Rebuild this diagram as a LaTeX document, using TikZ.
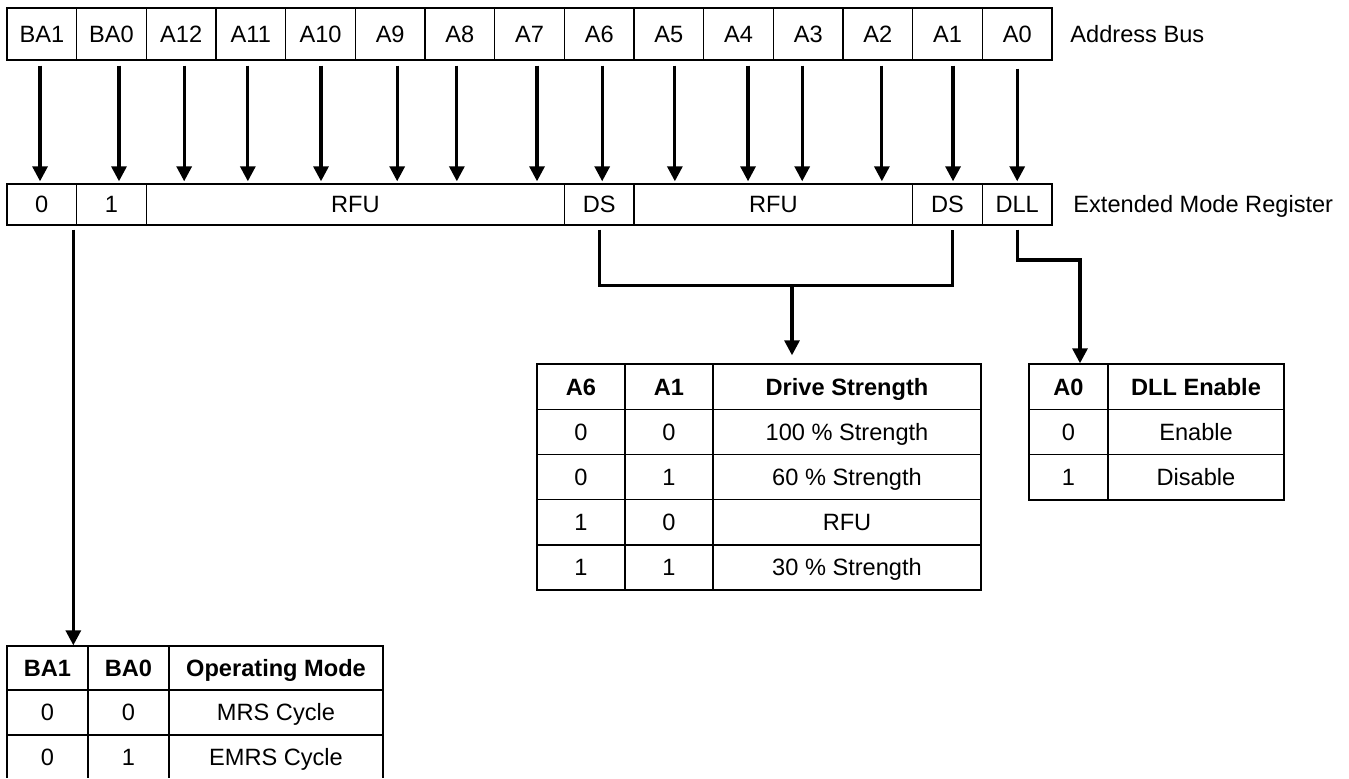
\documentclass[tikz,border=0pt]{standalone}
\usepackage{fontspec}
\setsansfont{Liberation Sans}
\usetikzlibrary{arrows.meta,calc}
\tikzset{every picture/.style={/utils/exec={\sffamily}}}

\begin{document}
\begin{tikzpicture}[x=0.5pt,y=-0.5pt,
		font=\fontsize{11.8pt}{14pt}\selectfont,
		cella/.style={draw, line width=0.7pt, inner sep=0pt, text height=8.45pt, text depth=0pt},
		bus/.style={cella, minimum width=34.83pt, minimum height=26pt},
		reg/.style={cella, minimum height=20.5pt},
		tab/.style={cella, minimum height=22.6pt},
		intest/.style={tab, font=\fontsize{11.8pt}{14pt}\selectfont\bfseries},
		etichetta/.style={anchor=west, inner sep=0pt, text height=8.45pt, text depth=0pt},
		freccia/.style={line width=1.6pt, -{Triangle[width=7.5pt,length=7.5pt]}},
		linea/.style={line width=1.5pt}]

		\useasboundingbox (0,0) rectangle (1349,778);
		\clip (0,0) rectangle (1349,777);

		% bus indirizzi
		\foreach \t/\n [count=\i from 0] in {BA1/ba1,BA0/ba0,A12/a12,A11/a11,A10/a10,A9/a9,A8/a8,A7/a7,A6/a6,A5/a5,A4/a4,A3/a3,A2/a2,A1/a1,A0/a0}
			\node[bus] (\n) at ({7+69.67*(\i+0.5)},34) {\t};
		\node[etichetta] (lbus) at (1070,34) {Address Bus};

		% registro
		\node[reg, minimum width=34.83pt] (r0) at (41.8,204.5) {0};
		\node[reg, minimum width=34.83pt] (r1) at (111.5,204.5) {1};
		\node[reg, minimum width=209pt] (rfuh) at (355.3,204.5) {RFU};
		\node[reg, minimum width=34.83pt] (dsh) at (599.2,204.5) {DS};
		\node[reg, minimum width=139.35pt] (rful) at (773.3,204.5) {RFU};
		\node[reg, minimum width=34.83pt] (dsl) at (947.5,204.5) {DS};
		\node[reg, minimum width=34.83pt] (dll) at (1017.2,204.5) {DLL};
		\node[etichetta] (lemr) at (1073,204.5) {Extended Mode Register};

		% frecce bus -> registro
		\foreach \n/\d/\s in {ba1/-1.8/5,ba0/7.5/5,a12/3/5,a11/-3/5,a10/0.5/5,a9/7/5,a8/-3/5,a7/7.5/5,a6/3/5,a5/6/5,a4/9.5/5,a3/-6/5,a2/4/5,a1/5.5/5,a0/0/8}
			\draw[freccia] ($(\n.south)+(\d,\s)$) -- ($(\n.south |- r0.north)+(\d,-2)$);

		% tabella drive strength
		\node[intest, minimum width=44pt] (dt1) at (581,386.6) {A6};
		\node[intest, minimum width=44pt] (dt2) at (669,386.6) {A1};
		\node[intest, minimum width=134pt] (dt3) at (847,386.6) {Drive Strength};
		\foreach \a/\b/\c [count=\r] in {0/0/100 \% Strength,0/1/60 \% Strength,1/0/RFU,1/1/30 \% Strength} {
			\node[tab, minimum width=44pt] (dt\r a) at (581,{386.6+45.2*\r}) {\a};
			\node[tab, minimum width=44pt] (dt\r b) at (669,{386.6+45.2*\r}) {\b};
			\node[tab, minimum width=134pt] (dt\r c) at (847,{386.6+45.2*\r}) {\c};
		}

		% tabella DLL
		\node[intest, minimum width=39.5pt] (dl1) at (1068.5,386.6) {A0};
		\node[intest, minimum width=88pt] (dl2) at (1196,386.6) {DLL Enable};
		\foreach \a/\c [count=\r] in {0/Enable,1/Disable} {
			\node[tab, minimum width=39.5pt] (dl\r a) at (1068.5,{386.6+45.3*\r}) {\a};
			\node[tab, minimum width=88pt] (dl\r c) at (1196,{386.6+45.3*\r}) {\c};
		}

		% tabella operating mode
		\node[intest, minimum width=40.5pt, minimum height=22pt] (op1) at (47.5,668) {BA1};
		\node[intest, minimum width=40.5pt, minimum height=22pt] (op2) at (128.5,668) {BA0};
		\node[intest, minimum width=107pt, minimum height=22pt] (op3) at (276,668) {Operating Mode};
		\foreach \a/\b/\c [count=\r] in {0/0/MRS Cycle,0/1/EMRS Cycle} {
			\node[tab, minimum width=40.5pt] (op\r a) at (47.5,{667.5+45*\r}) {\a};
			\node[tab, minimum width=40.5pt] (op\r b) at (128.5,{667.5+45*\r}) {\b};
			\node[tab, minimum width=107pt] (op\r c) at (276,{667.5+45*\r}) {\c};
		}

		% DS -> drive strength
		\draw[linea] ($(dsh.south)+(0,4)$) |- ($(dsl.south)+(4.5,60)$) -- ($(dsl.south)+(4.5,4)$);
		\coordinate (dsnodo) at (792,285);
		\draw[freccia] (dsnodo) -- ($(dsnodo |- dt3.north)+(0,-8)$);

		% DLL -> tabella DLL
		\coordinate (dllgomito) at (1080,260);
		\draw[freccia] ($(dll.south)+(0,4)$) |- (dllgomito) -- (dllgomito |- dl1.north);

		% BA -> operating mode
		\coordinate (bainizio) at ($(r0.south east)+(-4,4)$);
		\draw[freccia] (bainizio) -- (bainizio |- op1.north);

	\end{tikzpicture}
\end{document}
